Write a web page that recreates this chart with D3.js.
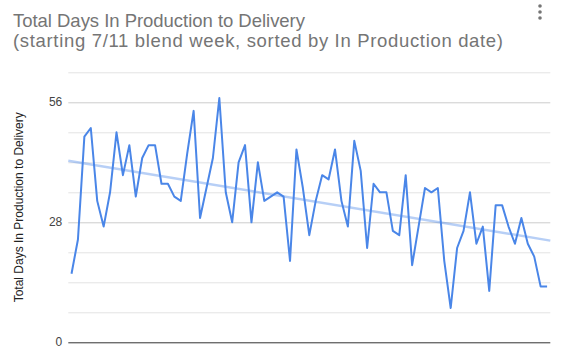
<!DOCTYPE html>
<html>
<head>
<meta charset="utf-8">
<script src="https://cdn.jsdelivr.net/npm/d3@7"></script>
<style>
  body { margin: 0; background: #fff; }
  text { font-family: Arial, "Liberation Sans", sans-serif; }
</style>
</head>
<body>
<div id="chart"></div>
<script>
// Total days per order, sorted by In Production date
const days = [
  16, 24, 48, 50, 33, 27, 35, 49, 39, 46,
  34, 43, 46, 46, 37, 37, 34, 33, 44, 54,
  29, 36, 43, 57, 35, 28, 42, 46, 28, 42,
  33, 34, 35, 34, 19, 45, 36, 25, 33, 39,
  38, 45, 33, 27, 47, 40, 22, 37, 35, 35,
  26, 25, 39, 18, 27, 36, 35, 36, 19, 8,
  22, 26, 35, 23, 27, 12, 32, 32, 27, 23,
  29, 23, 20, 13, 13
];
const yTickLabels = [0, 28, 56];
const yGridValues = [0, 7, 14, 21, 28, 35, 42, 49, 56, 63];
const titleLines = [
  'Total Days In Production to Delivery',
  '(starting 7/11 blend week, sorted by In Production date)'
];
const titleWidths = [292, 490];
const yTitle = 'Total Days In Production to Delivery';

const width = 562, height = 354;
const margins = { top: 72.3, right: 11.7, bottom: 11.7, left: 68.3 };
const plotWidth = width - margins.left - margins.right;
const plotHeight = height - margins.top - margins.bottom;

const svg = d3.select('#chart')
  .append('svg')
  .attr('width', width)
  .attr('height', height);

// Title (two lines)
svg.append('g')
  .selectAll('text')
  .data(titleLines)
  .join('text')
  .attr('x', 13)
  .attr('y', (d, i) => 27 + i * 20)
  .attr('textLength', (d, i) => titleWidths[i])
  .attr('lengthAdjust', 'spacing')
  .style('font-size', '18.5px')
  .style('fill', '#757575')
  .text(d => d);

// kebab menu dots
svg.append('g')
  .selectAll('circle')
  .data([0, 1, 2])
  .join('circle')
  .attr('cx', 540)
  .attr('cy', d => 6 + d * 6)
  .attr('r', 1.8)
  .attr('fill', '#757575');

const plotArea = svg.append('g')
  .attr('transform', `translate(${margins.left},${margins.top})`);

const xScale = d3.scalePoint()
  .domain(d3.range(days.length))
  .range([0, plotWidth])
  .padding(0.5);

const yScale = d3.scaleLinear()
  .domain([0, 63])
  .range([plotHeight, 0]);

// Gridlines
plotArea.append('g')
  .selectAll('line')
  .data(yGridValues)
  .join('line')
  .attr('x1', 0)
  .attr('x2', plotWidth)
  .attr('y1', d => Math.round(yScale(d)) + 0.5)
  .attr('y2', d => Math.round(yScale(d)) + 0.5)
  .attr('stroke', d => d === 0 ? '#333' : (d % 28 === 0 ? '#cccccc' : '#e3e3e3'))
  .attr('stroke-width', 1);

// Y tick labels
plotArea.append('g')
  .selectAll('text')
  .data(yTickLabels)
  .join('text')
  .attr('x', -6)
  .attr('y', d => yScale(d))
  .attr('dy', '0.35em')
  .attr('text-anchor', 'end')
  .style('font-size', '12px')
  .style('fill', '#444')
  .text(d => d);

// Y axis title
svg.append('text')
  .attr('transform', `translate(23,${margins.top + plotHeight / 2}) rotate(-90)`)
  .attr('text-anchor', 'middle')
  .style('font-size', '12px')
  .style('fill', '#222')
  .text(yTitle);

// Linear trendline (least squares over index)
const n = days.length;
const meanX = d3.mean(d3.range(n));
const meanY = d3.mean(days);
const slope = d3.sum(days, (v, i) => (i - meanX) * (v - meanY)) /
  d3.sum(d3.range(n), i => (i - meanX) ** 2);
const intercept = meanY - slope * meanX;

plotArea.append('line')
  .attr('x1', 0)
  .attr('x2', plotWidth)
  .attr('y1', yScale(intercept + slope * (-0.5)))
  .attr('y2', yScale(intercept + slope * (n - 0.5)))
  .attr('stroke', '#4a86e8')
  .attr('stroke-opacity', 0.4)
  .attr('stroke-width', 2.5);

// Data line
const line = d3.line()
  .x((d, i) => xScale(i))
  .y(d => yScale(d));

plotArea.append('path')
  .datum(days)
  .attr('fill', 'none')
  .attr('stroke', '#4a86e8')
  .attr('stroke-width', 2)
  .attr('stroke-linejoin', 'round')
  .attr('d', line);
</script>
</body>
</html>
